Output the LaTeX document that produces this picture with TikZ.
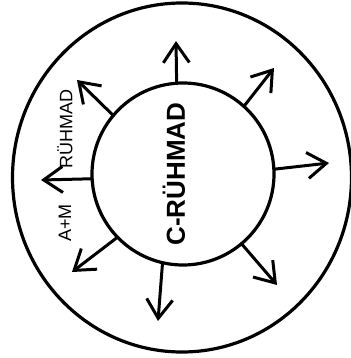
\documentclass[tikz,border=0pt]{standalone}
\usepackage{fontspec}
\setmainfont{Liberation Sans}
\usetikzlibrary{arrows.meta,shapes.geometric}
\tikzset{
  ring/.style={draw=black, line width=3.2pt, inner sep=0pt, outer sep=0pt},
  arr/.style={draw=black, line width=3pt, line cap=round,
    -{Straight Barb[length=19pt,width=26pt,line width=3pt]}},
  bigtext/.style={rotate=90, inner sep=0pt, font=\fontsize{26}{30}\selectfont\bfseries},
  smalltext/.style={rotate=90, inner sep=0pt, font=\fontsize{18}{21}\selectfont},
}
\begin{document}
\begin{tikzpicture}[x=1pt,y=-1pt]
\useasboundingbox[fill=white] (0,0) rectangle (350,358);
\node[ring, ellipse, minimum width=339pt, minimum height=349pt] (outer) at (182,177.5) {};
\node[ring, circle, minimum size=182pt] (inner) at (183,174) {};
\node[bigtext] (ctext) at (174,174) {C-RÜHMAD};
\node[smalltext] (rtext) at (65,129) {RÜHMAD};
\node[smalltext] (amtext) at (65,223) {A+M};
\coordinate (t1) at (176,41);
\coordinate (t2) at (274,68);
\coordinate (t3) at (329,163);
\coordinate (t4) at (277,285);
\coordinate (t5) at (158,321);
\coordinate (t6) at (72,272);
\coordinate (t7) at (41,180);
\coordinate (t8) at (77,80);
\draw[arr] (inner.94.5) -- (t1);
\draw[arr] (inner.48.2) -- (t2);
\draw[arr] (inner.3.6) -- (t3);
\draw[arr] (inner.-50.6) -- (t4);
\draw[arr] (inner.257.6) -- (t5);
\draw[arr] (inner.224.1) -- (t6);
\draw[arr] (inner.183.8) -- (t7);
\draw[arr] (inner.140.4) -- (t8);
\end{tikzpicture}
\end{document}
